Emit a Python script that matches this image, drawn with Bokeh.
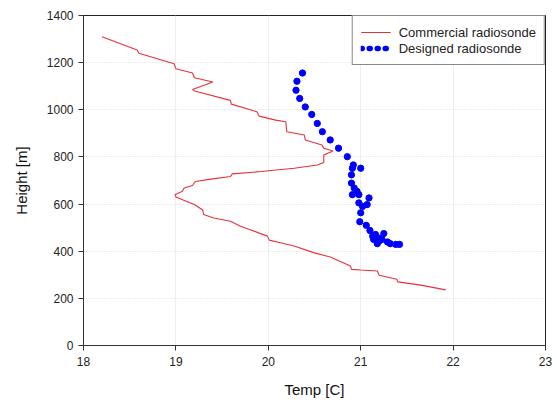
from bokeh.plotting import figure
from bokeh.models import Range1d, Legend, LegendItem, FixedTicker
from bokeh.embed import file_html
from bokeh.resources import INLINE

commercial_temp = [21.92, 21.65, 21.40, 21.39, 21.20, 21.18, 21.00, 20.90, 20.89, 20.70, 20.69,
                   20.49, 20.28, 20.13, 20.01, 19.99, 19.81, 19.70, 19.59, 19.41, 19.30, 19.29,
                   19.20, 19.11, 19.00, 18.99, 19.07, 19.09, 19.18, 19.21, 19.38, 19.59, 19.61,
                   19.92, 20.28, 20.53, 20.60, 20.60, 20.70, 20.60, 20.58, 20.40, 20.39, 20.20,
                   20.19, 20.08, 19.90, 19.88, 19.60, 19.59, 19.20, 19.18, 19.40, 19.20, 19.18,
                   19.00, 18.98, 18.60, 18.58, 18.20]
commercial_height = [236, 256, 270, 281, 298, 316, 320, 323, 337, 370, 373,
                     394, 422, 436, 447, 464, 490, 506, 527, 541, 556, 575,
                     598, 612, 630, 640, 654, 668, 679, 696, 706, 717, 728,
                     738, 752, 766, 776, 808, 825, 837, 851, 872, 893, 907,
                     949, 956, 973, 991, 1024, 1040, 1080, 1086, 1118, 1136, 1156,
                     1174, 1195, 1240, 1254, 1310]

designed_temp = [20.37, 20.31, 20.30, 20.34, 20.40, 20.47, 20.53, 20.585, 20.67, 20.76,
                 20.855, 20.92, 20.91, 21.00, 20.90, 20.90, 20.93, 20.96, 20.91, 20.98,
                 21.09, 21.07, 20.98, 21.02, 21.00, 20.99, 21.06, 21.10, 21.16, 21.25,
                 21.13, 21.14, 21.20, 21.23, 21.18, 21.29, 21.32, 21.38, 21.42, 21.17, 21.21]
designed_height = [1156, 1121, 1083, 1048, 1012, 980, 942, 907, 872, 837,
                   801, 766, 752, 752, 724, 689, 668, 654, 640, 640,
                   626, 598, 605, 590, 563, 525, 510, 488, 471, 475,
                   464, 450, 443, 450, 432, 439, 432, 429, 429, 458, 455]

x_ticks = [18, 19, 20, 21, 22, 23]
y_ticks = [0, 200, 400, 600, 800, 1000, 1200, 1400]

FONT = "Liberation Sans"

p = figure(width=552, height=400, output_backend="svg", toolbar_location=None,
           x_range=Range1d(18, 23), y_range=Range1d(0, 1400),
           min_border_left=83, min_border_right=7, min_border_top=15, min_border_bottom=53)

p.background_fill_color = "white"
p.border_fill_color = "white"
p.outline_line_color = "#222222"
p.outline_line_width = 1

p.xaxis.ticker = FixedTicker(ticks=x_ticks)
p.yaxis.ticker = FixedTicker(ticks=y_ticks)
for ax in (p.xaxis[0], p.yaxis[0]):
    ax.axis_line_color = "#333333"
    ax.major_tick_line_color = "#333333"
    ax.major_tick_in = 0
    ax.major_tick_out = 5
    ax.minor_tick_line_color = None
    ax.major_label_text_font = FONT
    ax.major_label_text_font_size = "12px"
    ax.major_label_text_color = "#222222"
    ax.axis_label_text_font = FONT
    ax.axis_label_text_font_size = "15px"
    ax.axis_label_text_font_style = "normal"
    ax.axis_label_text_color = "#111111"

p.xaxis.axis_label = "Temp [C]"
p.yaxis.axis_label = "Height [m]"
p.xaxis.major_label_standoff = 6
p.yaxis.major_label_standoff = 5
p.xaxis.axis_label_standoff = 12
p.yaxis.axis_label_standoff = 14

p.xgrid.grid_line_color = "#eeeeee"
p.ygrid.grid_line_color = "#d8d8d8"
p.ygrid.grid_line_dash = "1 2"

red = p.line(commercial_temp, commercial_height, line_color="#e8303a", line_width=1.1)
p.scatter(designed_temp, designed_height, marker="circle", size=6.3,
          fill_color="#0000ff", line_color="#0000ff")
dots = p.line(x=[float("nan")], y=[float("nan")], line_color="#0000ff", line_width=5.5,
              line_dash="1 7", line_cap="round")

legend = Legend(items=[LegendItem(label="Commercial radiosonde", renderers=[red]),
                       LegendItem(label="Designed radiosonde", renderers=[dots])],
                location="top_right")
legend.margin = 0
legend.padding = 8
legend.spacing = 0
legend.glyph_width = 30
legend.glyph_height = 16
legend.label_height = 16
legend.label_standoff = 8
legend.label_text_font = FONT
legend.label_text_font_size = "13px"
legend.label_text_color = "#222222"
legend.border_line_color = "#111111"
legend.border_line_width = 1
legend.background_fill_color = "white"
legend.background_fill_alpha = 1.0
p.add_layout(legend, "center")

open("out.html", "w").write(file_html(p, INLINE))
